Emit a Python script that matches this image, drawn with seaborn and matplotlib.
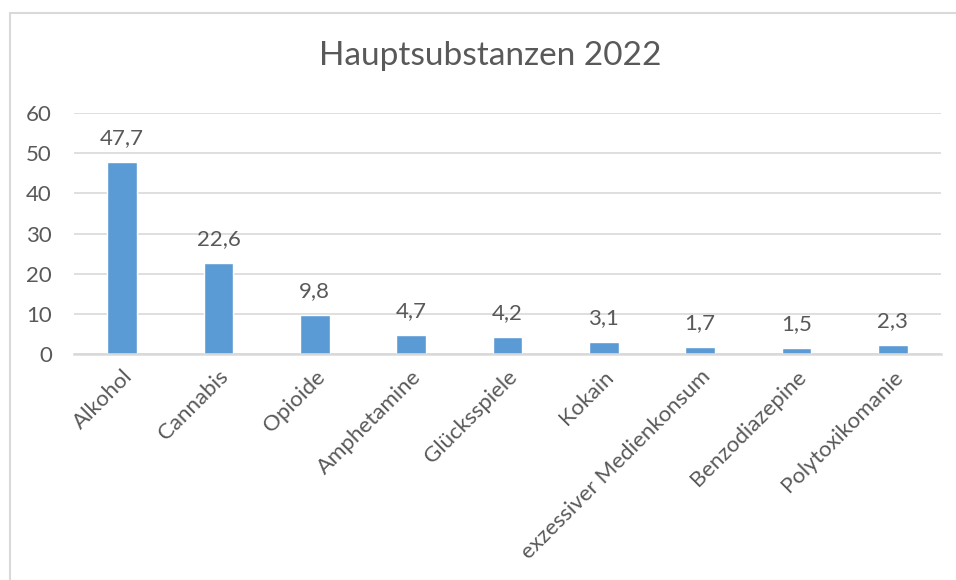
import matplotlib
matplotlib.use('Agg')
import matplotlib.pyplot as plt
import seaborn as sns
import pandas as pd
from matplotlib.patches import Rectangle

# Daten
kategorien = ['Alkohol', 'Cannabis', 'Opioide', 'Amphetamine', 'Glücksspiele', 'Kokain',
              'exzessiver Medienkonsum', 'Benzodiazepine', 'Polytoxikomanie']
werte = [47.7, 22.6, 9.8, 4.7, 4.2, 3.1, 1.7, 1.5, 2.3]
y_ticks = [0, 10, 20, 30, 40, 50, 60]

df = pd.DataFrame({'kategorie': kategorien, 'wert': werte})

sns.set_style('white')
plt.rcParams['font.family'] = ['Lato', 'DejaVu Sans']
text_farbe = '#595959'
gitter_farbe = '#D9D9D9'

fig = plt.figure(figsize=(9.56, 5.8), dpi=100)
ax = fig.add_axes([74 / 956, 1 - 354 / 580, (941 - 74) / 956, (354 - 113) / 580])

sns.barplot(data=df, x='kategorie', y='wert', color='#5B9BD5', width=0.31,
            saturation=1, ax=ax)

ax.set_ylim(0, 60)
ax.set_yticks(y_ticks)
ax.set_xlim(-0.5, len(kategorien) - 0.5)
ax.yaxis.grid(True, color=gitter_farbe, linewidth=1.2)
ax.set_axisbelow(True)
for s in ['top', 'right', 'left']:
    ax.spines[s].set_visible(False)
ax.spines['bottom'].set_color(gitter_farbe)
ax.spines['bottom'].set_linewidth(1.8)
ax.set_xlabel('')
ax.set_ylabel('')
ax.tick_params(axis='both', length=0, colors=text_farbe, labelsize=16)
ax.tick_params(axis='y', pad=16)
ax.set_xticks(range(len(kategorien)))
ax.set_xticklabels(kategorien, rotation=45, ha='right', rotation_mode='anchor',
                   color=text_farbe, fontsize=16)
ax.tick_params(axis='x', pad=9)

# Datenbeschriftungen
for i, w in enumerate(werte):
    ax.annotate(f'{w:.1f}'.replace('.', ','), (i, w), xytext=(0, 10),
                textcoords='offset points', ha='center', va='bottom',
                fontsize=16, color=text_farbe)

fig.text(490 / 956, 1 - 56 / 580, 'Hauptsubstanzen 2022', ha='center', va='center',
         fontsize=24, color=text_farbe)

# Rahmen des Diagrammbereichs
fig.patches.append(Rectangle((10 / 956, -0.1), 1.2, 1 - 13 / 580 + 0.1,
                             transform=fig.transFigure, fill=False,
                             edgecolor=gitter_farbe, linewidth=1.5))

fig.savefig('out.png', dpi=100)
